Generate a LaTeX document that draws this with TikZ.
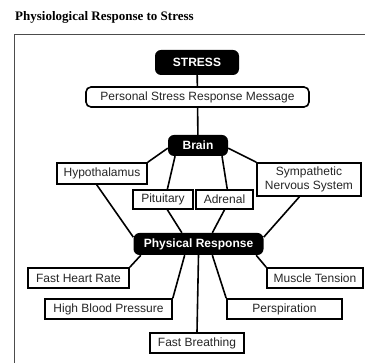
\documentclass[tikz,border=0pt]{standalone}
\usepackage{fontspec}
\usepackage{tikz}
\newfontfamily\boxfont{Liberation Sans}
\newfontfamily\titlefont{Liberation Serif}
\tikzstyle{link} = [draw, line width=1.6pt]
\tikzstyle{frame} = [draw, black!70, line width=0.9pt]
\tikzstyle{dark} = [rectangle, rounded corners=6pt, fill=black, text=white, inner sep=0pt, text centered, font=\boxfont\bfseries\fontsize{12}{13}\selectfont]
\tikzstyle{plain} = [rectangle, draw, line width=1.6pt, fill=white, text=black!85, inner sep=0pt, text centered, font=\boxfont\fontsize{12}{13.5}\selectfont]

\begin{document}
\begin{tikzpicture}
	\useasboundingbox (0pt,0pt) rectangle (365pt,-363pt);
	\draw [frame] (14pt,-363pt) -- (14pt,-34pt) -- (365pt,-34pt);
	\node [anchor=base west, inner sep=0pt, font=\titlefont\bfseries\fontsize{13}{14}\selectfont] (title) at (15pt,-21pt) {Physiological Response to Stress};
	
	\node [dark, minimum width=84pt, minimum height=25pt] (stress) at (197pt,-62.5pt) {STRESS};
	\node [plain, rounded corners=5pt, below of = stress, node distance = 34.5pt, xshift=0.5pt, minimum width=223pt, minimum height=20pt] (msg) {Personal Stress Response Message};
	\path [link] (stress) to (msg);
	\node [dark, below of = msg, node distance = 48.5pt, xshift=0.5pt, minimum width=60pt, minimum height=21pt] (brain) {Brain};
	\path [link] (msg) to (brain);
	
	
	\node [plain, below of = brain, node distance = 28pt, xshift=-96pt, minimum width=90pt, minimum height=21pt] (hypo) {Hypothalamus};
	\path [link] (brain.185) to (hypo.north east);
	\node [plain, below of = brain, node distance = 54pt, xshift=-35pt, minimum width=60pt, minimum height=19pt] (pit) {Pituitary};
	\path [link] (brain.205) to (pit.67);
	\node [plain, below of = brain, node distance = 54pt, xshift=26.5pt, minimum width=57pt, minimum height=19pt] (adr) {Adrenal};
	\path [link] (brain.-24) to (adr.75);
	\node [plain, below of = brain, node distance = 34pt, xshift=111pt, minimum width=104pt, minimum height=33pt, align=center] (symp) {Sympathetic\\Nervous System};
	\path [link] (brain.-5) to (symp.north west);
	
	
	\node [dark, below of = brain, node distance = 98.5pt, xshift=0.5pt, minimum width=130pt, minimum height=22pt] (phys) {Physical Response};
	\path [link] (hypo.245) to (phys.174);
	\path [link] (pit.-67) to (phys.146);
	\path [link] (adr.south) to (phys.39);
	\path [link] (symp.241) to (phys.6);
	
	
	\node [plain, below of = phys, node distance = 34pt, xshift=-120pt, minimum width=101pt, minimum height=20pt] (fhr) {Fast Heart Rate};
	\path [link] (phys.191) to (fhr.north east);
	\node [plain, below of = phys, node distance = 34pt, xshift=116.5pt, minimum width=96pt, minimum height=20pt] (mus) {Muscle Tension};
	\path [link] (phys.-11) to (mus.north west);
	\node [plain, below of = phys, node distance = 65pt, xshift=-90pt, minimum width=127pt, minimum height=20pt] (hbp) {High Blood Pressure};
	\path [link] (phys.219) to (hbp.north east);
	\node [plain, below of = phys, node distance = 65pt, xshift=86pt, minimum width=115pt, minimum height=20pt] (per) {Perspiration};
	\path [link] (phys.-39) to (per.north west);
	\node [plain, below of = phys, node distance = 99pt, xshift=-1.5pt, minimum width=94pt, minimum height=20pt] (fb) {Fast Breathing};
	\path [link] (phys.south) to (fb.north);
\end{tikzpicture}
\end{document}
